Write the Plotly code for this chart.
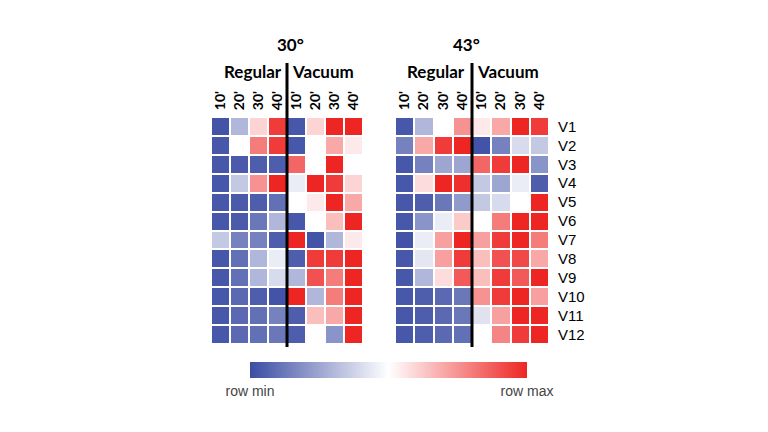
import plotly.graph_objects as go

col_labels = ["10'", "20'", "30'", "40'", "10'", "20'", "30'", "40'"]
row_labels = ["V1", "V2", "V3", "V4", "V5", "V6", "V7", "V8", "V9", "V10", "V11", "V12"]
groups = ["Regular", "Vacuum"]
angles = ["30°", "43°"]

# normalized per-row values (0 = row min, 1 = row max); columns: Regular 10-40, Vacuum 10-40
vals_30 = [
    [0.02, 0.30, 0.60, 0.95, 0.03, 0.60, 1.00, 1.00],
    [0.03, 0.50, 0.80, 0.95, 0.03, 0.50, 0.70, 0.55],
    [0.03, 0.04, 0.05, 0.05, 0.85, 0.50, 1.00, 0.50],
    [0.03, 0.35, 0.75, 1.00, 0.45, 1.00, 0.95, 0.60],
    [0.03, 0.04, 0.05, 0.10, 0.50, 0.55, 1.00, 0.70],
    [0.03, 0.04, 0.12, 0.30, 0.03, 0.50, 0.65, 1.00],
    [0.35, 0.15, 0.15, 0.05, 1.00, 0.02, 0.30, 0.55],
    [0.03, 0.10, 0.30, 0.45, 0.05, 0.95, 0.95, 1.00],
    [0.03, 0.10, 0.30, 0.40, 0.30, 0.90, 0.80, 1.00],
    [0.03, 0.08, 0.05, 0.02, 1.00, 0.30, 0.80, 1.00],
    [0.03, 0.08, 0.10, 0.15, 0.05, 0.65, 0.70, 1.00],
    [0.03, 0.08, 0.10, 0.12, 0.05, 0.50, 0.20, 1.00],
]
vals_43 = [
    [0.03, 0.30, 0.50, 0.75, 0.55, 0.70, 1.00, 0.95],
    [0.15, 0.70, 0.95, 1.00, 0.02, 0.15, 0.40, 0.35],
    [0.03, 0.15, 0.25, 0.25, 0.85, 0.95, 1.00, 0.20],
    [0.03, 0.58, 1.00, 0.98, 0.35, 0.25, 0.45, 0.05],
    [0.03, 0.05, 0.12, 0.22, 0.35, 0.40, 0.50, 1.00],
    [0.03, 0.20, 0.45, 0.62, 0.50, 0.80, 1.00, 1.00],
    [0.02, 0.45, 0.72, 1.00, 0.72, 0.95, 1.00, 0.80],
    [0.03, 0.43, 0.72, 0.95, 0.65, 0.90, 0.92, 0.70],
    [0.03, 0.30, 0.58, 0.88, 0.65, 0.95, 0.88, 1.00],
    [0.03, 0.05, 0.08, 0.12, 0.75, 0.95, 1.00, 0.72],
    [0.03, 0.05, 0.08, 0.12, 0.42, 0.72, 1.00, 1.00],
    [0.03, 0.05, 0.08, 0.10, 0.50, 0.78, 0.95, 1.00],
]

W, H = 768, 432
px = lambda v: v / W
py = lambda v: 1 - v / H

xs = list(range(len(col_labels)))
ys = list(range(len(row_labels)))

fig = go.Figure()
fig.add_trace(go.Heatmap(z=vals_30, x=xs, y=ys, coloraxis="coloraxis",
                         xgap=2, ygap=2, xaxis="x", yaxis="y"))
fig.add_trace(go.Heatmap(z=vals_43, x=xs, y=ys, coloraxis="coloraxis",
                         xgap=2, ygap=2, xaxis="x2", yaxis="y2"))

tick_font = dict(family="Lato", size=14, color="black", weight="bold")
common_x = dict(range=[-0.5, 7.5], side="top", tickmode="array", tickvals=xs,
                ticktext=col_labels, tickangle=-90, tickfont=tick_font,
                showgrid=False, zeroline=False, showline=False, ticks="outside",
                ticklen=3, tickcolor="rgba(0,0,0,0)")
common_y = dict(range=[11.5, -0.5], showgrid=False, zeroline=False, showline=False,
                domain=[py(344), py(117)])

fig.update_layout(
    width=W, height=H, margin=dict(l=0, r=0, t=0, b=0),
    paper_bgcolor="white", plot_bgcolor="white", showlegend=False,
    xaxis=dict(domain=[px(211), px(363)], anchor="y", **common_x),
    xaxis2=dict(domain=[px(395), px(549)], anchor="y2", **common_x),
    yaxis=dict(anchor="x", showticklabels=False, **common_y),
    yaxis2=dict(anchor="x2", side="right", tickmode="array", tickvals=ys,
                ticktext=row_labels, ticks="outside", ticklen=5,
                tickcolor="rgba(0,0,0,0)",
                tickfont=dict(family="Liberation Sans", size=15, color="black"),
                **common_y),
    coloraxis=dict(
        cmin=0, cmax=1,
        colorscale=[[0, "rgb(59,76,163)"], [0.5, "rgb(255,255,255)"], [1, "rgb(237,38,36)"]],
        colorbar=dict(orientation="h", x=px(388.5), xanchor="center", y=py(362),
                      yanchor="top", len=277, lenmode="pixels", thickness=16,
                      thicknessmode="pixels", outlinewidth=0, xpad=0, ypad=0,
                      tickmode="array", tickvals=[0, 1], ticktext=["row min", "row max"],
                      ticks="outside", ticklen=2, tickcolor="rgba(0,0,0,0)",
                      tickfont=dict(family="Liberation Sans", size=14, color="#444")),
    ),
)

# separators between Regular and Vacuum
for xr in ["x", "x2"]:
    fig.add_shape(type="line", xref=xr, yref="paper", x0=3.5, x1=3.5,
                  y0=py(347), y1=py(63), line=dict(color="black", width=3))

title_font = dict(family="Lato", size=17, color="black", weight="bold")
centers = [(px(290), px(284), px(290)), (px(466), px(467), px(475))]
for (cx, rx, vx), ang in zip(centers, angles):
    fig.add_annotation(x=cx, y=py(45), xref="paper", yref="paper", text=ang,
                       showarrow=False, font=title_font, xanchor="center", yanchor="middle")
    fig.add_annotation(x=rx, y=py(71), xref="paper", yref="paper", text=groups[0],
                       showarrow=False, font=title_font, xanchor="right", yanchor="middle")
    fig.add_annotation(x=vx, y=py(71), xref="paper", yref="paper", text=groups[1],
                       showarrow=False, font=title_font, xanchor="left", yanchor="middle")

fig.write_html("out.html")
